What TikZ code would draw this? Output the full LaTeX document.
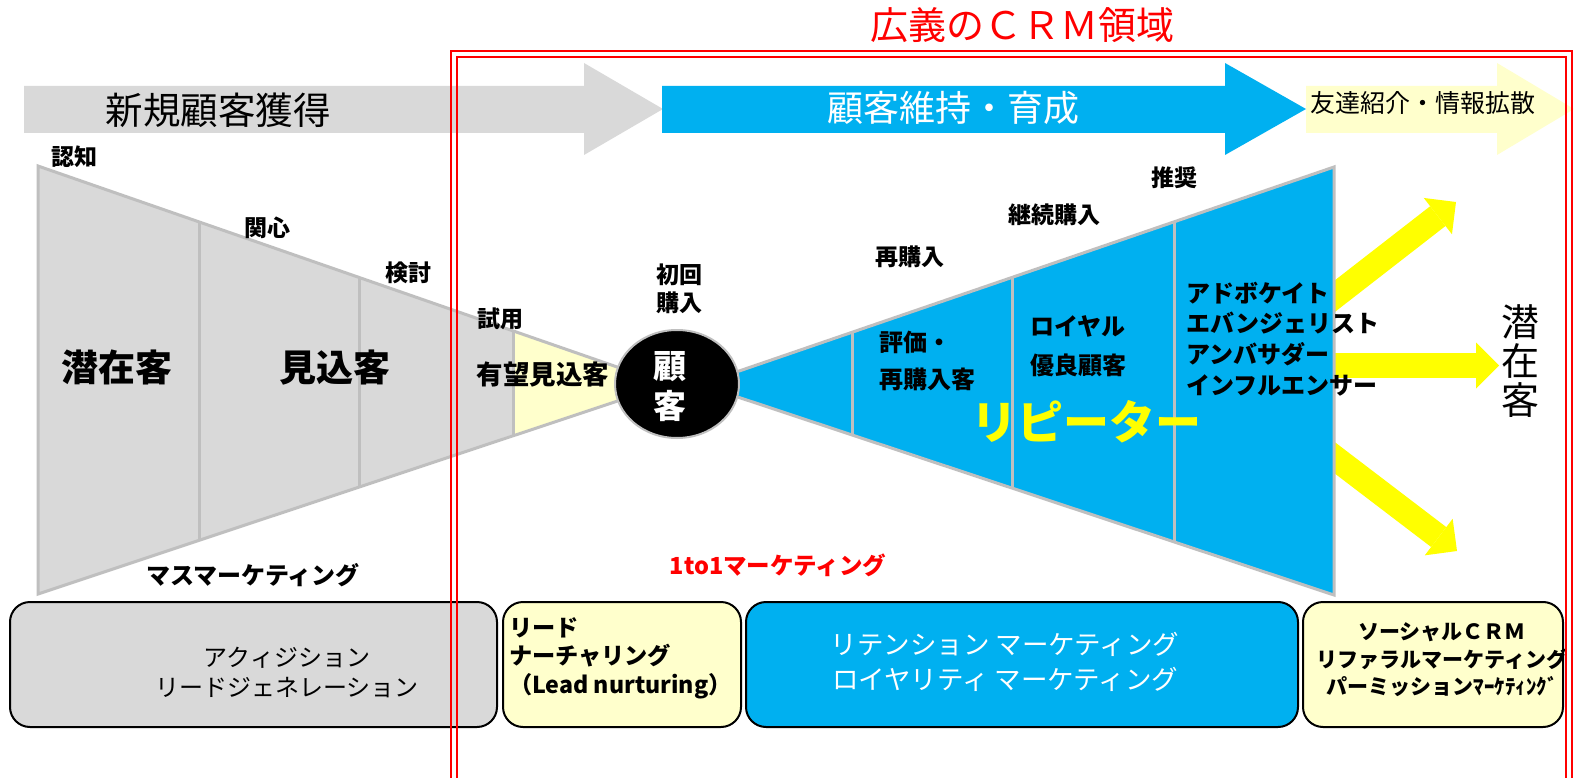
\documentclass[tikz,border=0pt]{standalone}
\usepackage{fontspec}
\setmainfont{Noto Sans CJK JP}
\usetikzlibrary{arrows.meta,shapes.geometric}
\definecolor{cgray}{HTML}{D9D9D9}
\definecolor{cline}{HTML}{BFBFBF}
\definecolor{cblue}{HTML}{00B0F0}
\definecolor{cly}{HTML}{FFFFCC}
\definecolor{cyel}{HTML}{FFFF00}
\definecolor{cred}{HTML}{FF0000}
\begin{document}
\begin{tikzpicture}[x=1pt,y=-1pt,
  every node/.style={inner sep=0pt, outer sep=0pt},
  lbl/.style={font=\bfseries\fontsize{23}{28}\selectfont, align=center},
  bigl/.style={font=\bfseries\fontsize{37}{40}\selectfont},
  funline/.style={cline, line width=3pt},
  yarrow/.style={cyel, line width=25pt, -{Triangle[length=23pt,width=46pt,line width=0pt]}},
  bottombox/.style={draw=black, line width=2pt, rounded corners=20pt, minimum height=125pt},
  redframe/.style={cred, line width=2.5pt}
]
\useasboundingbox (0,0) rectangle (1574,778);
\fill[white] (0,0) rectangle (1574,778);

% top band arrows
\fill[cly] (1306,86) -- (1497,86) -- (1497,63) -- (1574,109) -- (1497,155) -- (1497,133) -- (1306,133) -- cycle;
\fill[cgray] (24,86) -- (584,86) -- (584,63) -- (663,109) -- (584,155) -- (584,133) -- (24,133) -- cycle;
\fill[cblue] (662,86) -- (1225,86) -- (1225,63) -- (1306,109) -- (1225,155) -- (1225,133) -- (662,133) -- cycle;
\node[font=\fontsize{37.5}{40}\selectfont] (shinki) at (218,110) {新規顧客獲得};
\node[font=\fontsize{36}{40}\selectfont, text=white] (iji) at (953,108) {顧客維持・育成};
\node[font=\fontsize{25}{30}\selectfont] (tomo) at (1423,103) {友達紹介・情報拡散};
\node[font=\fontsize{38}{42}\selectfont, text=cred] (crm) at (1022,25) {広義のＣＲＭ領域};

% yellow arrows
\coordinate (a1s) at (1300,323.2);
\coordinate (a1e) at (1456,202);
\coordinate (a2s) at (1300,365.5);
\coordinate (a2e) at (1499,365.5);
\coordinate (a3s) at (1300,431.3);
\coordinate (a3e) at (1457,551);
\draw[yarrow] (a1s) -- (a1e);
\draw[yarrow] (a2s) -- (a2e);
\draw[yarrow] (a3s) -- (a3e);

% left funnel
\fill[cgray] (38,166) -- (620,368) -- (620,400.2) -- (38,594) -- cycle;
\fill[cly] (513,330.8) -- (620,368) -- (620,400.2) -- (513,435.8) -- cycle;
\draw[funline] (620,368) -- (38,166) -- (38,594) -- (620,400.2);
\draw[funline] (199,221.9) -- (199,540.4);
\draw[funline] (359,277.4) -- (359,487.1);
\draw[funline] (513,330.8) -- (513,435.8);

% right funnel
\fill[cblue] (738,371.4) -- (1334,167) -- (1334,595) -- (738,397.1) -- cycle;
\draw[funline] (738,371.4) -- (1334,167) -- (1334,595) -- (738,397.1);
\draw[funline] (852,332.3) -- (852,435);
\draw[funline] (1012,277.4) -- (1012,488.1);
\draw[funline] (1174,221.9) -- (1174,541.9);

% customer circle
\node[ellipse, fill=black, draw=cline, line width=2pt, minimum width=124pt, minimum height=108pt] (kokyaku) at (677,384) {};
\node[font=\bfseries\fontsize{33}{40}\selectfont, text=white, align=center] (kokyakut) at (670,387) {顧\\客};

% left funnel labels
\node[lbl] (ninchi) at (74,157) {認知};
\node[lbl] (kanshin) at (267,228) {関心};
\node[lbl] (kento) at (408,273) {検討};
\node[lbl] (shiyo) at (500,319) {試用};
\node[lbl] (shokai) at (679,289) {初回\\購入};
\node[bigl] (senzai) at (117,367) {潜在客};
\node[bigl] (mikomi) at (335,368) {見込客};
\node[font=\bfseries\fontsize{26.5}{30}\selectfont] (yubo) at (543,374) {有望見込客};
\node[font=\bfseries\fontsize{24}{28}\selectfont] (mass) at (253,575) {マスマーケティング};
\node[font=\bfseries\fontsize{23.5}{28}\selectfont, text=cred] (oneto) at (778,565) {1to1マーケティング};

% right funnel labels
\node[lbl] (saikonyu) at (910,257) {再購入};
\node[lbl] (keizoku) at (1054,215) {継続購入};
\node[lbl] (suisho) at (1174,178) {推奨};
\node[font=\bfseries\fontsize{24}{37}\selectfont, align=left, anchor=west] (hyoka) at (879,360.5) {評価・\\再購入客};
\node[font=\bfseries\fontsize{24}{39}\selectfont, align=left, anchor=west] (royal) at (1030,346.5) {ロイヤル\\優良顧客};
\node[font=\bfseries\fontsize{24}{30.7}\selectfont, align=left, anchor=west] (advo) at (1186,339) {アドボケイト\\エバンジェリスト\\アンバサダー\\インフルエンサー};
\node[font=\bfseries\fontsize{46}{50}\selectfont, text=cyel] (repeater) at (1086,422) {リピーター};
\node[font=\fontsize{38}{39}\selectfont, align=center] (senzai2) at (1520,361) {潜\\在\\客};

% bottom boxes
\node[bottombox, fill=cgray, minimum width=487pt] (b1) at (253.5,664.5) {};
\node[bottombox, fill=cly, minimum width=238pt] (b2) at (622,664.5) {};
\node[bottombox, fill=cblue, minimum width=552pt] (b3) at (1022,664.5) {};
\node[bottombox, fill=cly, minimum width=260pt] (b4) at (1433,664.5) {};
\node[font=\fontsize{24}{30}\selectfont, align=center] (b1t) at (287,672) {アクィジション\\リードジェネレーション};
\node[font=\bfseries\fontsize{23.2}{28.5}\selectfont, align=left, anchor=west] (b2t) at (509,658) {リード\\ナーチャリング\\（Lead nurturing）};
\node[font=\fontsize{26.5}{35}\selectfont, align=center, text=white] (b3t) at (1005,662) {リテンション マーケティング\\ロイヤリティ マーケティング};
\node[font=\bfseries\fontsize{21}{27.5}\selectfont, align=center] (b4t) at (1442,660) {ソーシャルＣＲＭ\\リファラルマーケティング\\パーミッションﾏｰｹﾃｨﾝｸﾞ};

% red CRM frame
\draw[redframe] (451,778) -- (451,51) -- (1572,51) -- (1572,778);
\draw[redframe] (457,778) -- (457,57) -- (1566,57) -- (1566,778);
\end{tikzpicture}
\end{document}
